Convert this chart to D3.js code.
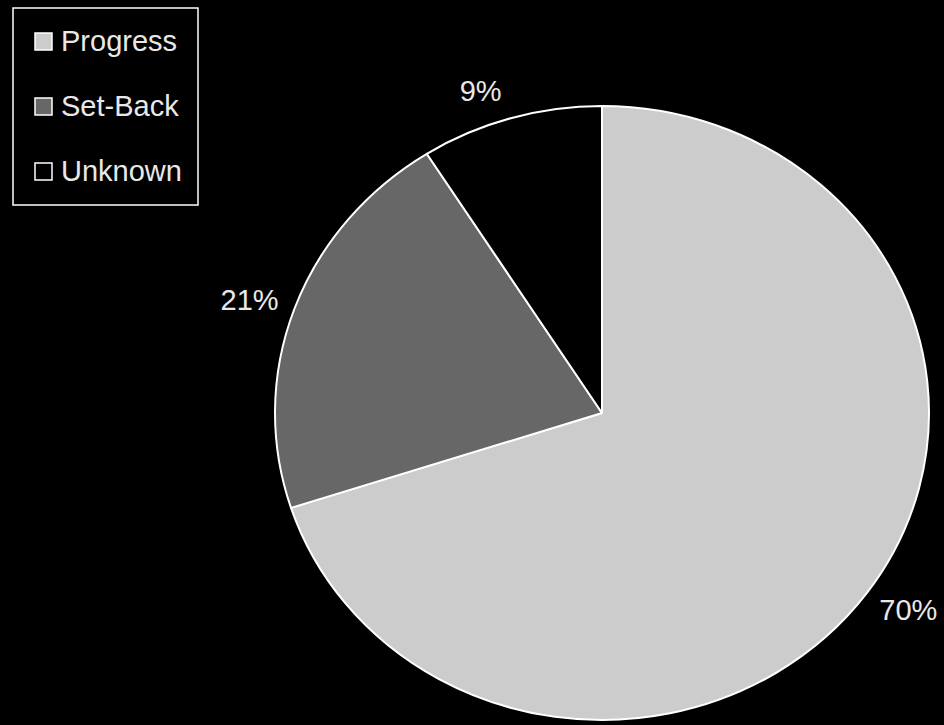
<!DOCTYPE html>
<html>
<head>
<meta charset="utf-8">
<script src="https://cdn.jsdelivr.net/npm/d3@7"></script>
<style>
  html, body { margin: 0; padding: 0; background: #000; }
  svg { display: block; }
  text { font-family: "Liberation Sans", Arial, sans-serif; fill: #e8e8e8; }
</style>
</head>
<body>
<svg id="chart" width="944" height="725"></svg>
<script>
// Outcome shares, in percent
const categories = ["Progress", "Set-Back", "Unknown"];
const values = [70, 21, 9];
const colors = ["#cccccc", "#676767", "#000000"];

const W = 944, H = 725;
const cx = 602, cy = 413;     // pie centre
const rx = 327, ry = 307;     // the pie is drawn slightly wider than tall

const svg = d3.select("#chart");
svg.append("rect").attr("width", W).attr("height", H).attr("fill", "#000");

const pie = d3.pie().sort(null).value(d => d.value).startAngle(0).endAngle(2 * Math.PI);
const data = categories.map((c, i) => ({ name: c, value: values[i], color: colors[i] }));
const arcs = pie(data);

const arc = d3.arc().innerRadius(0).outerRadius(ry);

// Slices: circle of radius ry stretched horizontally to rx
const pieG = svg.append("g")
  .attr("transform", `translate(${cx},${cy}) scale(${rx / ry},1)`);

pieG.selectAll("path.slice")
  .data(arcs)
  .join("path")
  .attr("class", "slice")
  .attr("d", arc)
  .attr("fill", d => d.data.color)
  .attr("stroke", "#ffffff")
  .attr("stroke-width", 2)
  .attr("stroke-linejoin", "round")
  .attr("vector-effect", "non-scaling-stroke");

// Percentage labels placed just outside each slice's mid-angle
const total = d3.sum(values);
svg.selectAll("text.pct")
  .data(arcs)
  .join("text")
  .attr("class", "pct")
  .attr("text-anchor", "middle")
  .attr("dominant-baseline", "central")
  .attr("font-size", 29)
  .attr("x", d => {
    const a = (d.startAngle + d.endAngle) / 2;
    const ux = Math.sin(a);
    return cx + ux * (rx + 22) + Math.sign(ux) * 24;
  })
  .attr("y", d => {
    const a = (d.startAngle + d.endAngle) / 2;
    const uy = -Math.cos(a);
    return cy + uy * (ry + 28);
  })
  .text(d => Math.round(d.data.value / total * 100) + "%");

// Legend
const legend = svg.append("g").attr("transform", "translate(13,8)");
legend.append("rect")
  .attr("x", 0).attr("y", 0)
  .attr("width", 185).attr("height", 197)
  .attr("fill", "#000")
  .attr("stroke", "#ffffff")
  .attr("stroke-width", 1.5);

const item = legend.selectAll("g.item")
  .data(data)
  .join("g")
  .attr("class", "item")
  .attr("transform", (d, i) => `translate(0,${25 + i * 65})`);

item.append("rect")
  .attr("x", 22).attr("y", 0)
  .attr("width", 17).attr("height", 17)
  .attr("fill", d => d.color)
  .attr("stroke", "#ffffff")
  .attr("stroke-width", 1.5);

item.append("text")
  .attr("x", 48)
  .attr("y", 18)
  .attr("font-size", 29)
  .text(d => d.name);
</script>
</body>
</html>
